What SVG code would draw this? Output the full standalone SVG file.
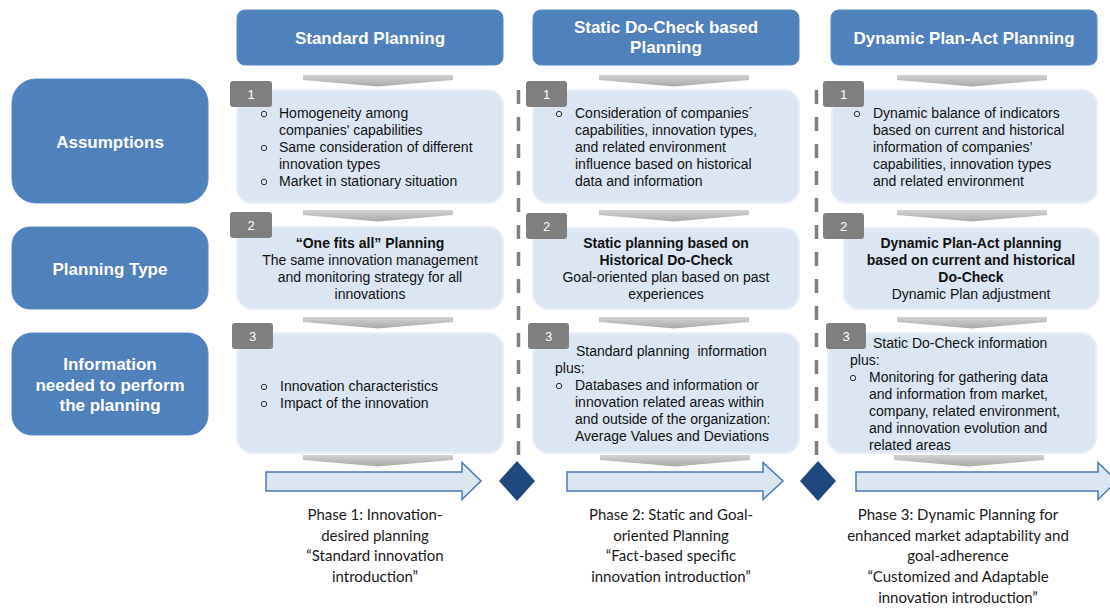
<svg xmlns="http://www.w3.org/2000/svg" width="1110" height="610" viewBox="0 0 1110 610">
  <style>
    .hdr { fill: #4f81bd; stroke: #5a8ac3; stroke-width: 1; }
    .hdr-t { font-family: "Liberation Sans", Arial, sans-serif; font-size: 17px; font-weight: bold; fill: #ffffff; text-anchor: middle; }
    .card { fill: #dce6f2; stroke: #e9eff8; stroke-width: 2; }
    .badge { fill: #7f7f7f; }
    .badge-t { font-family: "Liberation Sans", Arial, sans-serif; font-size: 13px; fill: #ffffff; text-anchor: middle; }
    .t { font-family: "Liberation Sans", Arial, sans-serif; font-size: 14px; fill: #111111; }
    .c { text-anchor: middle; }
    .b { font-weight: bold; }
    .bul { fill: none; stroke: #333333; stroke-width: 1; }
    .chev { fill: url(#chevFill); }
    .flow { fill: #dce6f2; stroke: #4a7ab5; stroke-width: 1.5; stroke-linejoin: miter; }
    .gate { fill: #1f497d; }
    .sep { stroke: #7f7f7f; stroke-width: 3.5; stroke-dasharray: 14 13; fill: none; }
    .phase { font-family: Lato, "Liberation Sans", sans-serif; font-size: 15px; fill: #1a1a1a; text-anchor: middle; }
  </style>
  <defs>
    <linearGradient id="chevFill" x1="0" y1="0" x2="0" y2="1">
      <stop offset="0" stop-color="#d2d2d2"/>
      <stop offset="1" stop-color="#a9a9a9"/>
    </linearGradient>
    <!-- downward step chevron between rows -->
    <path id="chev" d="M0 0 H150 V5 L75 11.5 L0 5 Z"/>
  </defs>

  <!-- column separators -->
  <g id="separators">
    <line class="sep" x1="518.5" y1="455" x2="518.5" y2="80"/>
    <line class="sep" x1="816.5" y1="455" x2="816.5" y2="80"/>
  </g>

  <!-- column headers -->
  <g id="hdr-standard">
    <rect class="hdr" x="237" y="10" width="266" height="55" rx="8"/>
    <text class="hdr-t" x="370" y="44">Standard Planning</text>
  </g>
  <g id="hdr-static">
    <rect class="hdr" x="533" y="10" width="266" height="55" rx="8"/>
    <text class="hdr-t" x="666" y="33">Static Do-Check based</text>
    <text class="hdr-t" x="666" y="53">Planning</text>
  </g>
  <g id="hdr-dynamic">
    <rect class="hdr" x="831" y="10" width="266" height="55" rx="8"/>
    <text class="hdr-t" x="964" y="44">Dynamic Plan-Act Planning</text>
  </g>

  <!-- row labels -->
  <g id="row-assumptions">
    <rect class="hdr" x="12" y="79" width="196" height="124" rx="24"/>
    <text class="hdr-t" x="110" y="148">Assumptions</text>
  </g>
  <g id="row-planning-type">
    <rect class="hdr" x="12" y="227" width="196" height="82" rx="18"/>
    <text class="hdr-t" x="110" y="275">Planning Type</text>
  </g>
  <g id="row-information">
    <rect class="hdr" x="12" y="333" width="196" height="102" rx="20"/>
    <text class="hdr-t" x="110" y="370">Information</text>
    <text class="hdr-t" x="110" y="391">needed to perform</text>
    <text class="hdr-t" x="110" y="411">the planning</text>
  </g>

  <!-- step chevrons -->
  <g id="chevrons">
    <use href="#chev" class="chev" x="303" y="75"/>
    <use href="#chev" class="chev" x="303" y="210"/>
    <use href="#chev" class="chev" x="303" y="317"/>
    <use href="#chev" class="chev" x="303" y="455"/>
    <use href="#chev" class="chev" x="599" y="75"/>
    <use href="#chev" class="chev" x="599" y="210"/>
    <use href="#chev" class="chev" x="599" y="317"/>
    <use href="#chev" class="chev" x="600" y="455"/>
    <use href="#chev" class="chev" x="897" y="75"/>
    <use href="#chev" class="chev" x="897" y="210"/>
    <use href="#chev" class="chev" x="897" y="317"/>
    <use href="#chev" class="chev" x="894" y="455"/>
  </g>

  <!-- Standard Planning column -->
  <g id="std-1">
    <rect class="card" x="237" y="90" width="266" height="113" rx="15"/>
    <rect class="badge" x="230" y="81" width="42" height="26" rx="3"/>
    <text class="badge-t" x="251" y="99">1</text>
    <circle class="bul" cx="264" cy="114" r="2.7"/>
    <circle class="bul" cx="264" cy="148" r="2.7"/>
    <circle class="bul" cx="264" cy="182" r="2.7"/>
    <text class="t" x="279" y="118">Homogeneity among</text>
    <text class="t" x="279" y="135">companies' capabilities</text>
    <text class="t" x="279" y="152">Same consideration of different</text>
    <text class="t" x="279" y="169">innovation types</text>
    <text class="t" x="279" y="186">Market in stationary situation</text>
  </g>
  <g id="std-2">
    <rect class="card" x="237" y="227" width="266" height="82" rx="15"/>
    <rect class="badge" x="230" y="212" width="42" height="26" rx="3"/>
    <text class="badge-t" x="251" y="230">2</text>
    <text class="t c b" x="370" y="248">“One fits all” Planning</text>
    <text class="t c" x="370" y="265">The same innovation management</text>
    <text class="t c" x="370" y="282">and monitoring strategy for all</text>
    <text class="t c" x="370" y="299">innovations</text>
  </g>
  <g id="std-3">
    <rect class="card" x="237" y="333" width="266" height="120" rx="15"/>
    <rect class="badge" x="232" y="323" width="41" height="26" rx="3"/>
    <text class="badge-t" x="252.5" y="341">3</text>
    <circle class="bul" cx="264" cy="387" r="2.7"/>
    <circle class="bul" cx="264" cy="404" r="2.7"/>
    <text class="t" x="280" y="391">Innovation characteristics</text>
    <text class="t" x="280" y="408">Impact of the innovation</text>
  </g>

  <!-- Static Do-Check column -->
  <g id="static-1">
    <rect class="card" x="533" y="90" width="266" height="113" rx="15"/>
    <rect class="badge" x="526" y="81" width="41" height="26" rx="3"/>
    <text class="badge-t" x="546.5" y="99">1</text>
    <circle class="bul" cx="559" cy="114" r="2.7"/>
    <text class="t" x="575" y="118">Consideration of companies´</text>
    <text class="t" x="575" y="135">capabilities, innovation types,</text>
    <text class="t" x="575" y="152">and related environment</text>
    <text class="t" x="575" y="169">influence based on historical</text>
    <text class="t" x="575" y="186">data and information</text>
  </g>
  <g id="static-2">
    <rect class="card" x="533" y="228" width="266" height="81" rx="15"/>
    <rect class="badge" x="526" y="213" width="41" height="26" rx="3"/>
    <text class="badge-t" x="546.5" y="231">2</text>
    <text class="t c b" x="666" y="248">Static planning based on</text>
    <text class="t c b" x="666" y="265">Historical Do-Check</text>
    <text class="t c" x="666" y="282">Goal-oriented plan based on past</text>
    <text class="t c" x="666" y="299">experiences</text>
  </g>
  <g id="static-3">
    <rect class="card" x="533" y="333" width="266" height="120" rx="15"/>
    <rect class="badge" x="528" y="323" width="41" height="26" rx="3"/>
    <text class="badge-t" x="548.5" y="341">3</text>
    <text class="t" x="576" y="356" style="white-space:pre">Standard planning  information</text>
    <text class="t" x="555" y="373">plus:</text>
    <circle class="bul" cx="559" cy="386" r="2.7"/>
    <text class="t" x="575" y="390">Databases and information or</text>
    <text class="t" x="575" y="407">innovation related areas within</text>
    <text class="t" x="575" y="424">and outside of the organization:</text>
    <text class="t" x="575" y="441">Average Values and Deviations</text>
  </g>

  <!-- Dynamic Plan-Act column -->
  <g id="dyn-1">
    <rect class="card" x="832" y="90" width="265" height="113" rx="15"/>
    <rect class="badge" x="823" y="81" width="41" height="26" rx="3"/>
    <text class="badge-t" x="843.5" y="99">1</text>
    <circle class="bul" cx="857" cy="114" r="2.7"/>
    <text class="t" x="873" y="118">Dynamic balance of indicators</text>
    <text class="t" x="873" y="135">based on current and historical</text>
    <text class="t" x="873" y="152">information of companies’</text>
    <text class="t" x="873" y="169">capabilities, innovation types</text>
    <text class="t" x="873" y="186">and related environment</text>
  </g>
  <g id="dyn-2">
    <rect class="card" x="844" y="228" width="255" height="81" rx="15"/>
    <rect class="badge" x="823" y="213" width="41" height="26" rx="3"/>
    <text class="badge-t" x="843.5" y="231">2</text>
    <text class="t c b" x="971" y="248">Dynamic Plan-Act planning</text>
    <text class="t c b" x="971" y="265">based on current and historical</text>
    <text class="t c b" x="971" y="282">Do-Check</text>
    <text class="t c" x="971" y="299">Dynamic Plan adjustment</text>
  </g>
  <g id="dyn-3">
    <rect class="card" x="828" y="333" width="268" height="120" rx="15"/>
    <rect class="badge" x="826" y="323" width="40" height="26" rx="3"/>
    <text class="badge-t" x="846" y="341">3</text>
    <text class="t" x="873" y="348">Static Do-Check information</text>
    <text class="t" x="850" y="365">plus:</text>
    <circle class="bul" cx="853" cy="378" r="2.7"/>
    <text class="t" x="869" y="382">Monitoring for gathering data</text>
    <text class="t" x="869" y="399">and information from market,</text>
    <text class="t" x="869" y="416">company, related environment,</text>
    <text class="t" x="869" y="433">and innovation evolution and</text>
    <text class="t" x="869" y="450">related areas</text>
  </g>

  <!-- phase flow arrows and gates -->
  <g id="connectors">
    <path class="flow" d="M266 472 H462 V462.5 L481 481 L462 499.5 V491 H266 Z"/>
    <path class="flow" d="M567 472 H763 V462.5 L783 481 L763 499.5 V491 H567 Z"/>
    <path class="flow" d="M856 472 H1098 V462.5 L1117 481 L1098 499.5 V491 H856 Z"/>
    <path class="gate" d="M517 461 L535 481 L517 501 L499 481 Z"/>
    <path class="gate" d="M818 461 L836 481 L818 501 L800 481 Z"/>
  </g>

  <!-- phase captions -->
  <g id="phase-1">
    <text class="phase" x="375" y="520">Phase 1: Innovation-</text>
    <text class="phase" x="375" y="541">desired planning</text>
    <text class="phase" x="375" y="561">“Standard innovation</text>
    <text class="phase" x="375" y="582">introduction”</text>
  </g>
  <g id="phase-2">
    <text class="phase" x="671" y="520">Phase 2: Static and Goal-</text>
    <text class="phase" x="671" y="541">oriented Planning</text>
    <text class="phase" x="671" y="561">“Fact-based specific</text>
    <text class="phase" x="671" y="582">innovation introduction”</text>
  </g>
  <g id="phase-3">
    <text class="phase" x="958" y="520">Phase 3: Dynamic Planning for</text>
    <text class="phase" x="958" y="541">enhanced market adaptability and</text>
    <text class="phase" x="958" y="561">goal-adherence</text>
    <text class="phase" x="958" y="582">“Customized and Adaptable</text>
    <text class="phase" x="958" y="603">innovation introduction”</text>
  </g>
</svg>
